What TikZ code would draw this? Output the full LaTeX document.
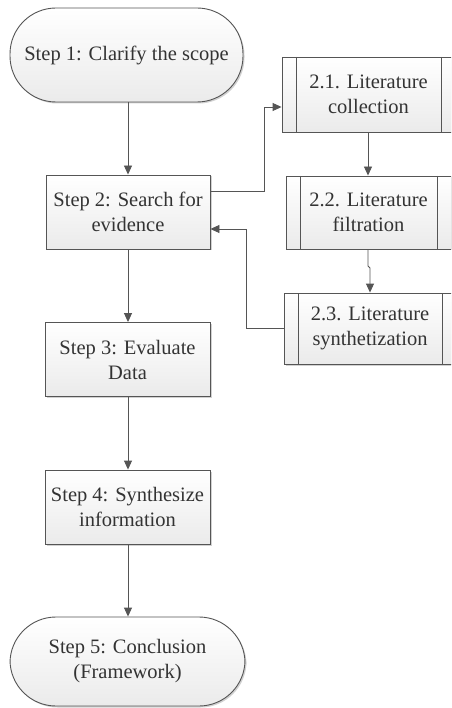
\documentclass[tikz,border=0pt]{standalone}
\usepackage{fontspec}
\setmainfont{Liberation Serif}
\usetikzlibrary{arrows.meta,shadows}
\definecolor{edge}{HTML}{555555}
\definecolor{txt}{HTML}{333333}
\tikzset{
  base/.style={draw=edge, line width=0.9pt, top color=white, bottom color=gray!16,
    drop shadow={shadow xshift=1.5pt, shadow yshift=-1.5pt, fill=black, opacity=0.18},
    text=txt, align=center, inner sep=0pt,
    font=\fontsize{20.5}{25}\selectfont},
  procbox/.style={base, rectangle, minimum width=165pt, minimum height=74pt},
  termbox/.style={base, rectangle, rounded corners=46pt},
  subbox/.style={base, rectangle,
    path picture={
      \draw[edge, line width=0.9pt] ([xshift=14pt]path picture bounding box.north west) -- ([xshift=14pt]path picture bounding box.south west);
      \draw[edge, line width=0.9pt] ([xshift=-14pt]path picture bounding box.north east) -- ([xshift=-14pt]path picture bounding box.south east);
    }},
  conn/.style={draw=edge, line width=0.9pt, -{Triangle[length=9pt,width=8pt]}, fill=none}
}
\begin{document}
\begin{tikzpicture}[x=1pt,y=-1pt]
\clip (0,0) rectangle (451,708);
\fill[white] (0,0) rectangle (451,708);
\node[termbox, minimum width=233pt, minimum height=94pt] (s1) at (126.5,55) {Step 1: Clarify the scope};
\node[procbox, minimum width=164pt] (s2) at (128,212) {Step 2: Search for\\evidence};
\node[procbox] (s3) at (127.5,359.5) {Step 3: Evaluate\\Data};
\node[procbox] (s4) at (127.5,507) {Step 4: Synthesize\\information};
\node[termbox, minimum width=235pt, minimum height=89pt] (s5) at (127.5,661.5) {Step 5: Conclusion\\(Framework)};

\node[subbox, minimum width=173pt, minimum height=75pt] (c1) at (368.5,94.5) {2.1. Literature\\collection};
\node[subbox, minimum width=165pt, minimum height=73pt] (c2) at (368.5,212.5) {2.2. Literature\\filtration};
\node[subbox, minimum width=172pt, minimum height=71pt] (c3) at (370,328.5) {2.3. Literature\\synthetization};

\coordinate (j1) at (264,191);
\coordinate (j2) at (246,328);
\coordinate (j3) at (368,266);

\draw[conn] (s1.south -| 128,0) -- (s2.north -| 128,0);
\draw[conn] (s2.south -| 128,0) -- (s3.north -| 128,0);
\draw[conn] (s3.south -| 128,0) -- (s4.north -| 128,0);
\draw[conn] (s4.south -| 128,0) -- (s5.north -| 128,0);

\draw[conn] (s2.east |- j1) -- (j1) |- (c1.west |- 0,107);
\draw[conn] (c1.south -| 368,0) -- (c2.north -| 368,0);
\draw[conn] (c2.south -| j3) -- (j3) -- (370,268) -- (c3.north -| 370,0);
\draw[conn] (c3.west |- j2) -- (j2) |- (s2.east |- 0,229);
\end{tikzpicture}
\end{document}
